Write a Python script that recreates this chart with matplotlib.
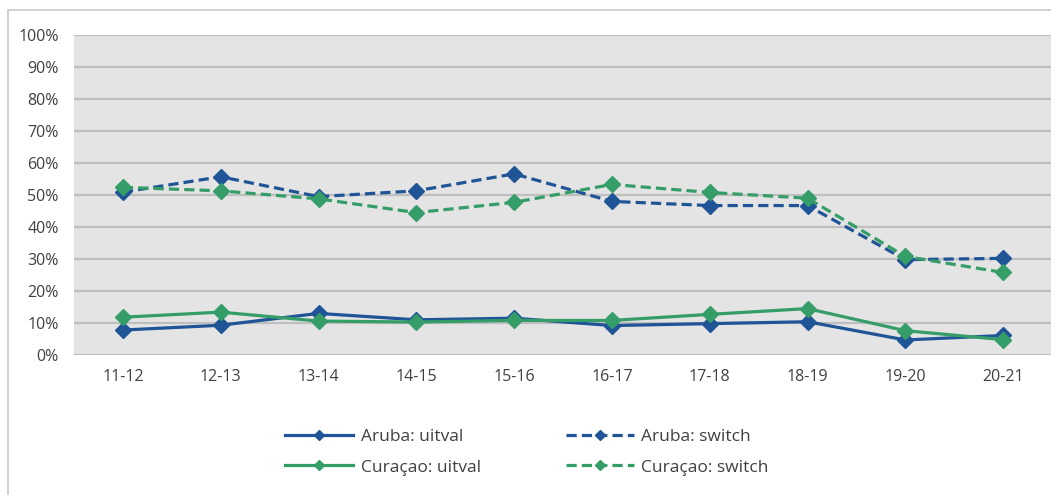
"""
Uitval en switch per schooljaar, Aruba vs Curaçao (line chart).
"""

import matplotlib.pyplot as plt
from matplotlib.patches import Rectangle
from matplotlib.ticker import FuncFormatter, MultipleLocator

years = ["11-12", "12-13", "13-14", "14-15", "15-16",
         "16-17", "17-18", "18-19", "19-20", "20-21"]

aruba_uitval = [7.8, 9.3, 13.0, 11.0, 11.5, 9.2, 9.8, 10.4, 4.7, 6.1]
aruba_switch = [50.9, 55.7, 49.5, 51.3, 56.6, 48.0, 46.7, 46.7, 29.8, 30.2]
curacao_uitval = [11.8, 13.4, 10.6, 10.3, 10.8, 10.8, 12.7, 14.5, 7.6, 4.8]
curacao_switch = [52.4, 51.3, 48.8, 44.5, 47.7, 53.3, 50.8, 49.0, 30.8, 25.8]

BLUE = "#1f5596"
GREEN = "#359d68"

plt.rcParams["font.family"] = ["Open Sans", "DejaVu Sans"]

fig = plt.figure(figsize=(10.51, 4.95), dpi=100)
W, H = 1051, 495
ax = fig.add_axes([74 / W, 1 - 355 / H, (1052 - 74) / W, (355 - 35) / H])

# outer chart border (right and bottom edges fall outside the picture)
fig.patches.append(Rectangle((8 / W, -0.2), 1.2, 1.2 - 10 / H, transform=fig.transFigure,
                             fill=False, edgecolor="#c8c8c8", linewidth=1.2))

ax.set_facecolor("#e4e4e4")
x = range(len(years))
dash = (0, (3.2, 1.6))
common = dict(marker="D", markersize=7.8, linewidth=2.3)

ax.plot(x, aruba_uitval, color=BLUE, label="Aruba: uitval", **common)
ax.plot(x, aruba_switch, color=BLUE, linestyle=dash, label="Aruba: switch", **common)
ax.plot(x, curacao_uitval, color=GREEN, label="Curaçao: uitval", **common)
ax.plot(x, curacao_switch, color=GREEN, linestyle=dash, label="Curaçao: switch", **common)

ax.set_xlim(-0.5, len(years) - 0.5)
ax.set_ylim(0, 100)
ax.yaxis.set_major_locator(MultipleLocator(10))
ax.yaxis.set_major_formatter(FuncFormatter(lambda v, _: f"{v:.0f}%"))
ax.set_xticks(list(x))
ax.set_xticklabels(years)
ax.grid(axis="y", color="#bfbfbf", linewidth=1.6)
ax.set_axisbelow(True)
for s in ax.spines.values():
    s.set_visible(False)
ax.tick_params(length=0, labelsize=11.5, colors="#404040")
ax.tick_params(axis="y", pad=11)
ax.tick_params(axis="x", pad=10)

handles, labels = ax.get_legend_handles_labels()
order = [0, 2, 1, 3]
leg = fig.legend([handles[i] for i in order], [labels[i] for i in order],
                 loc="center", bbox_to_anchor=(527 / W, 1 - 452 / H), ncol=2,
                 frameon=False, fontsize=12.5, handlelength=3.9, handletextpad=0.45,
                 columnspacing=4.9, labelspacing=0.85, markerscale=0.7)
for t in leg.get_texts():
    t.set_color("#404040")

fig.savefig("out.png", dpi=100)
